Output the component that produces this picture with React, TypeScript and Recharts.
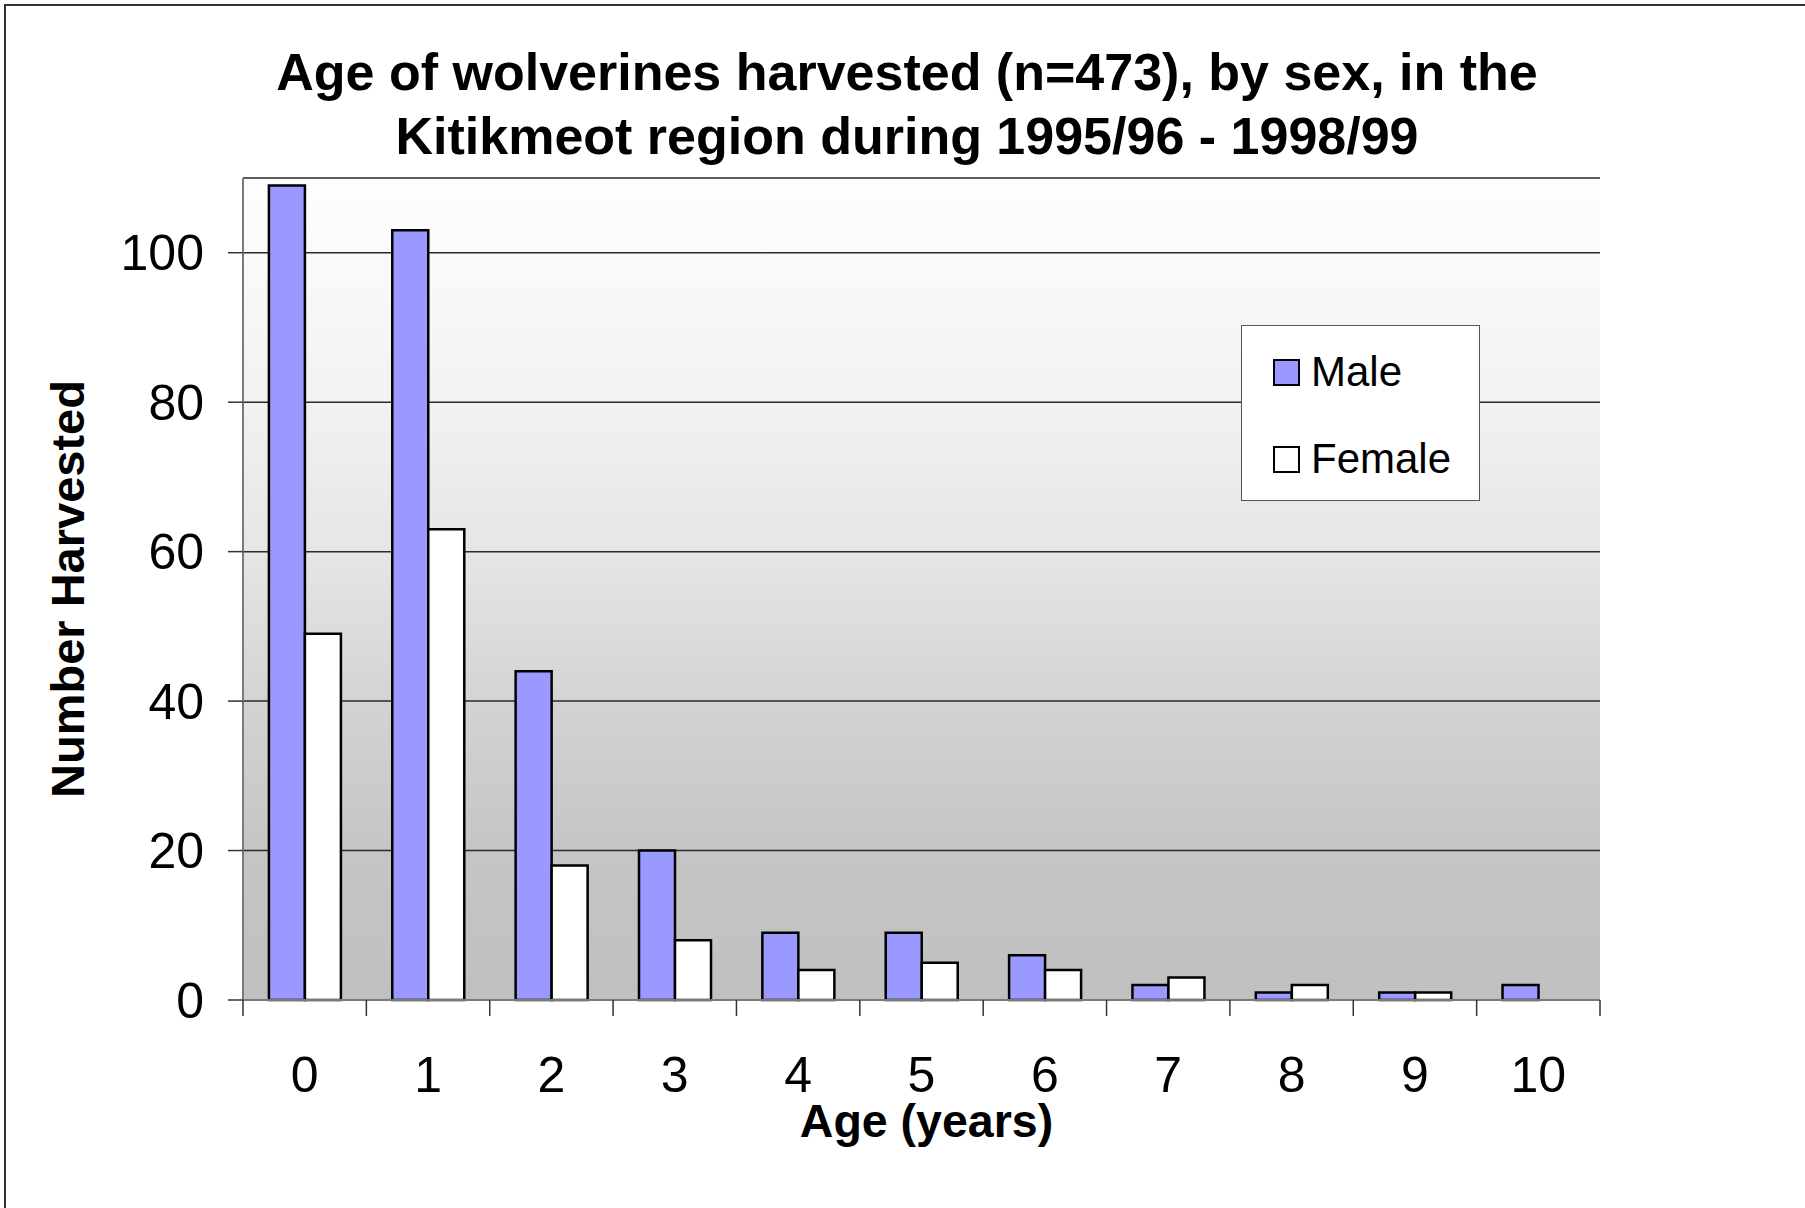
import React from 'react';
import {
  BarChart,
  Bar,
  XAxis,
  YAxis,
  CartesianGrid,
  Legend,
  Label,
} from 'recharts';

const ages = ['0', '1', '2', '3', '4', '5', '6', '7', '8', '9', '10'];
const maleCounts = [109, 103, 44, 20, 9, 9, 6, 2, 1, 1, 2];
const femaleCounts = [49, 63, 18, 8, 4, 5, 4, 3, 2, 1, 0];
const yTicks = [0, 20, 40, 60, 80, 100];
const titleLines = [
  'Age of wolverines harvested (n=473), by sex, in the',
  'Kitikmeot region during 1995/96 - 1998/99',
];

const data = ages.map((age, i) => ({
  age,
  Male: maleCounts[i],
  Female: femaleCounts[i],
}));

const FONT = "'Liberation Sans', Arial, Helvetica, sans-serif";
const W = 1805;
const H = 1208;
const MARGIN = { top: 178, right: 205, bottom: 108, left: 143 };
const Y_AXIS_W = 100;
const X_AXIS_H = 100;
const PLOT_W = W - MARGIN.left - MARGIN.right - Y_AXIS_W;
const HALF_BAND = PLOT_W / ages.length / 2;

const XTick = (props: any) => {
  const { x, y, payload, index } = props;
  const half = HALF_BAND;
  return (
    <g>
      <line x1={x - half} x2={x - half} y1={y} y2={y + 16} stroke="#333" strokeWidth={1.5} />
      {index === ages.length - 1 && (
        <line x1={x + half} x2={x + half} y1={y} y2={y + 16} stroke="#333" strokeWidth={1.5} />
      )}
      <text x={x} y={y + 92} textAnchor="middle" fontSize={50} fontFamily={FONT} fill="#000">
        {payload.value}
      </text>
    </g>
  );
};

const LegendBox = (props: any) => {
  const items = (props.payload || []).slice().sort((a: any) => (a.value === 'Male' ? -1 : 1));
  return (
    <div
      style={{
        width: 239,
        height: 176,
        boxSizing: 'border-box',
        background: '#fff',
        border: '1.5px solid #555',
        position: 'relative',
        fontFamily: FONT,
      }}
    >
      {items.map((it: any, i: number) => (
        <div
          key={it.value}
          style={{
            position: 'absolute',
            left: 31,
            top: i === 0 ? 46 - 24 : 133 - 24,
            height: 48,
            display: 'flex',
            alignItems: 'center',
          }}
        >
          <span
            style={{
              display: 'inline-block',
              width: 27,
              height: 27,
              boxSizing: 'border-box',
              border: '2.5px solid #000',
              background: it.payload?.fill || it.color,
            }}
          />
          <span style={{ marginLeft: 11, fontSize: 42, color: '#000', lineHeight: '48px' }}>{it.value}</span>
        </div>
      ))}
    </div>
  );
};

export default function App() {
  return (
    <div
      style={{
        position: 'absolute',
        left: 0,
        top: 0,
        width: W,
        height: H,
        overflow: 'hidden',
        background: '#fff',
      }}
    >
      <svg width={0} height={0} style={{ position: 'absolute' }}>
        <defs>
          <linearGradient id="plotBg" x1="0" y1="0" x2="0" y2="1">
            <stop offset="0%" stopColor="#fefefe" />
            <stop offset="27%" stopColor="#f2f2f2" />
            <stop offset="46%" stopColor="#e5e5e5" />
            <stop offset="64%" stopColor="#d3d3d3" />
            <stop offset="82%" stopColor="#c5c5c5" />
            <stop offset="100%" stopColor="#c0c0c0" />
          </linearGradient>
        </defs>
      </svg>
      <div
        style={{
          position: 'absolute',
          left: 4,
          top: 4,
          width: 2000,
          height: 1400,
          borderLeft: '2px solid #333',
          borderTop: '2px solid #333',
        }}
      />
      <div
        style={{
          position: 'absolute',
          left: 0,
          top: 40,
          width: 1814,
          textAlign: 'center',
          fontFamily: FONT,
          fontWeight: 'bold',
          fontSize: 52,
          lineHeight: '64px',
          color: '#000',
          zIndex: 2,
        }}
      >
        {titleLines.map((t) => (
          <div key={t}>{t}</div>
        ))}
      </div>
      <div style={{ position: 'absolute', left: 0, top: 0 }}>
        <BarChart
          width={W}
          height={H}
          data={data}
          margin={MARGIN}
          barCategoryGap="21%"
          barGap={0}
        >
          <CartesianGrid
            vertical={false}
            horizontal
            stroke="#2a2a2a"
            strokeWidth={1.5}
            fill="url(#plotBg)"
            fillOpacity={1}
          />
          <XAxis
            xAxisId="top"
            orientation="top"
            dataKey="age"
            height={0}
            tick={false}
            tickLine={false}
            axisLine={{ stroke: '#c6c6c6', strokeWidth: 3 }}
          />
          <YAxis
            yAxisId="right"
            orientation="right"
            width={0}
            domain={[0, 110]}
            ticks={yTicks}
            tick={false}
            tickLine={false}
            axisLine={{ stroke: '#c6c6c6', strokeWidth: 3 }}
          />
          <XAxis
            dataKey="age"
            height={X_AXIS_H}
            tickLine={false}
            tickSize={0}
            tickMargin={0}
            interval={0}
            tick={<XTick />}
            axisLine={{ stroke: '#7a7a7a', strokeWidth: 2 }}
          >
            <Label
              content={(p: any) => {
                const vb = p.viewBox;
                return (
                  <text
                    x={vb.x + vb.width / 2 + 5}
                    y={vb.y + 137}
                    textAnchor="middle"
                    fontSize={46.5}
                    fontWeight="bold"
                    fontFamily={FONT}
                    fill="#000"
                  >
                    Age (years)
                  </text>
                );
              }}
            />
          </XAxis>
          <YAxis
            width={Y_AXIS_W}
            domain={[0, 110]}
            ticks={yTicks}
            interval={0}
            tickSize={15}
            tickMargin={24}
            tickLine={{ stroke: '#333', strokeWidth: 1.5 }}
            axisLine={{ stroke: '#7a7a7a', strokeWidth: 2 }}
            tick={{ fontSize: 50, fill: '#000', fontFamily: FONT }}
          >
            <Label
              content={(p: any) => {
                const vb = p.viewBox;
                const cx = vb.x - 76;
                const cy = vb.y + vb.height / 2;
                return (
                  <text
                    x={cx}
                    y={cy}
                    transform={`rotate(-90 ${cx} ${cy})`}
                    textAnchor="middle"
                    dominantBaseline="central"
                    fontSize={47}
                    fontWeight="bold"
                    fontFamily={FONT}
                    fill="#000"
                  >
                    Number Harvested
                  </text>
                );
              }}
            />
          </YAxis>
          <Legend
            layout="vertical"
            align="center"
            verticalAlign="middle"
            content={<LegendBox />}
            wrapperStyle={{ left: 1241, top: 325, width: 239, height: 176 }}
          />
          <Bar dataKey="Male" fill="#9999ff" stroke="#000" strokeWidth={2.5} isAnimationActive={false} />
          <Bar dataKey="Female" fill="#ffffff" stroke="#000" strokeWidth={2.5} isAnimationActive={false} />
        </BarChart>
      </div>
    </div>
  );
}
